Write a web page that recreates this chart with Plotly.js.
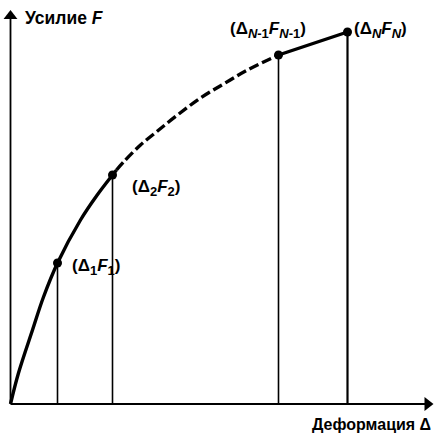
<!DOCTYPE html>
<html><head><meta charset="utf-8">
<script src="https://cdn.plot.ly/plotly-3.0.1.min.js"></script>
<style>html,body{margin:0;padding:0;background:#fff}#c{width:439px;height:434px}</style>
</head><body><div id="c"></div>
<script>
// Solid part of curve (origin to point 2)
const solidX = [0, 8, 22, 33, 47, 70, 86, 102, 106];
const solidY = [0, 31, 74, 107, 141, 184, 208, 229, 234];
// Dashed part (point 2 to point N-1)
const dashX = [106, 113, 130, 147, 167, 190, 213, 237, 268];
const dashY = [234, 242, 259, 273, 289, 306, 320, 334, 349];
// Final straight segment
const lastX = [268, 337];
const lastY = [349, 372];
// Marked points
const ptX = [47, 102, 268, 337];
const ptY = [141, 229, 349, 372];
const S = s => '<sub><span style="font-size:13px">' + s + '</span></sub>';
const ptLabels = ['(Δ' + S('1') + '<i>F</i>' + S('1') + ')', '(Δ' + S('2') + '<i>F</i>' + S('2') + ')',
  '(Δ' + S('<i>N</i>-1') + '<i>F</i>' + S('<i>N</i>-1') + ')', '(Δ' + S('<i>N</i>') + '<i>F</i>' + S('<i>N</i>') + ')'];
const xAxisEnd = 423, yAxisEnd = 394;
const yTitle = '<b>Усилие <i>F</i></b>';
const xTitle = '<b>Деформация Δ</b>';

const FONT = 'Liberation Sans, Arial, sans-serif';
const traces = [];
// verticals
ptX.forEach((x, i) => traces.push({x: [x, x], y: [0, ptY[i]], mode: 'lines',
  line: {color: '#000', width: i === 3 ? 2.2 : 1.6}, hoverinfo: 'skip'}));
// axes
traces.push({x: [0, xAxisEnd - 6], y: [0, 0], mode: 'lines', line: {color: '#000', width: 1.8}, cliponaxis: false});
traces.push({x: [0, 0], y: [0, yAxisEnd - 6], mode: 'lines', line: {color: '#000', width: 1.8}, cliponaxis: false});
// arrowheads
traces.push({x: [xAxisEnd - 6], y: [0], mode: 'markers', cliponaxis: false,
  marker: {symbol: 'triangle-right', size: 12, color: '#000', line: {width: 0}}});
traces.push({x: [0], y: [yAxisEnd - 6], mode: 'markers', cliponaxis: false,
  marker: {symbol: 'triangle-up', size: 12, color: '#000', line: {width: 0}}});
traces.push({x: solidX, y: solidY, mode: 'lines', line: {color: '#000', width: 3.4, shape: 'spline', smoothing: 1}});
traces.push({x: dashX, y: dashY, mode: 'lines', line: {color: '#000', width: 3.4, shape: 'spline', smoothing: 1, dash: '10px,4px'}});
traces.push({x: lastX, y: lastY, mode: 'lines', line: {color: '#000', width: 3.4}});
traces.push({x: ptX, y: ptY, mode: 'markers', marker: {color: '#000', size: 9}});

const labelOff = [[12.5, -4], [17.5, -13], [-50.5, 25], [4.5, 2]];
const annotations = ptLabels.map((t, i) => ({
  x: ptX[i] + labelOff[i][0], y: ptY[i] + labelOff[i][1], text: '<b>' + t + '</b>', showarrow: false,
  xanchor: 'left', yanchor: 'middle', font: {family: FONT, size: 17, color: '#000'}
}));
annotations.push({x: 12.5, y: 386, text: yTitle, showarrow: false, xanchor: 'left', yanchor: 'middle',
  font: {family: FONT, size: 17.5, color: '#000'}});
annotations.push({x: 422.5, y: -20, text: xTitle, showarrow: false, xanchor: 'right', yanchor: 'middle',
  font: {family: FONT, size: 16, color: '#000'}});

const layout = {
  width: 439, height: 434, margin: {l: 0, r: 0, t: 0, b: 0},
  paper_bgcolor: '#fff', plot_bgcolor: '#fff', showlegend: false,
  xaxis: {range: [-10.5, 428.5], visible: false, fixedrange: true},
  yaxis: {range: [-30, 404], visible: false, fixedrange: true},
  annotations: annotations
};
Plotly.newPlot('c', traces, layout, {staticPlot: true, displayModeBar: false});
</script></body></html>
